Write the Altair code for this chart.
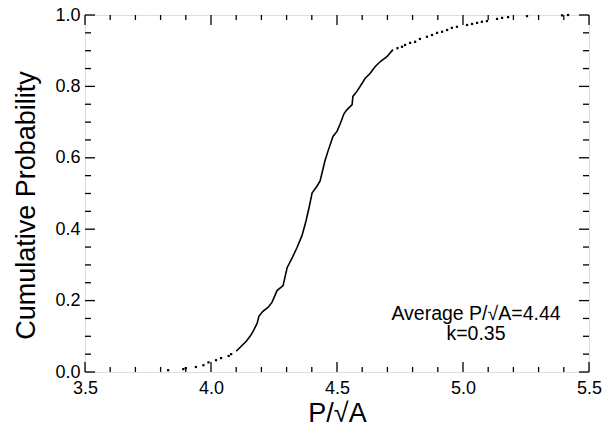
import altair as alt
import pandas as pd

# ---- data (P/sqrt(A) vs cumulative probability) ----
low_x = [3.83, 3.89, 3.90, 3.94, 3.97, 3.99, 4.02, 4.04, 4.07, 4.08]
low_y = [0.005, 0.008, 0.011, 0.014, 0.019, 0.027, 0.033, 0.039, 0.045, 0.050]

mid_x = [4.100, 4.120, 4.140, 4.155, 4.167, 4.183, 4.190, 4.206, 4.226, 4.242,
         4.262, 4.286, 4.302, 4.321, 4.341, 4.361, 4.377, 4.389, 4.397, 4.401,
         4.421, 4.433, 4.452, 4.464, 4.484, 4.500, 4.512, 4.528, 4.540, 4.560,
         4.563, 4.579, 4.599, 4.611, 4.631, 4.651, 4.671, 4.698, 4.722]
mid_y = [0.058, 0.072, 0.086, 0.100, 0.114, 0.136, 0.156, 0.170, 0.181, 0.195,
         0.228, 0.242, 0.292, 0.318, 0.348, 0.382, 0.423, 0.460, 0.487, 0.501,
         0.521, 0.535, 0.591, 0.618, 0.660, 0.674, 0.694, 0.724, 0.735, 0.749,
         0.772, 0.786, 0.808, 0.822, 0.836, 0.855, 0.869, 0.883, 0.903]

high_x = [4.740, 4.758, 4.770, 4.790, 4.810, 4.829, 4.857, 4.877, 4.897, 4.917,
          4.937, 4.956, 4.976, 5.016, 5.036, 5.056, 5.075, 5.095, 5.135, 5.155,
          5.179, 5.254, 5.393, 5.417]
high_y = [0.907, 0.911, 0.916, 0.922, 0.925, 0.933, 0.939, 0.944, 0.950, 0.953,
          0.958, 0.964, 0.967, 0.972, 0.975, 0.978, 0.981, 0.983, 0.989, 0.992,
          0.994, 0.997, 0.999, 1.000]

x_labels = [3.5, 4.0, 4.5, 5.0, 5.5]
x_minor = [3.6, 3.7, 3.8, 3.9, 4.1, 4.2, 4.3, 4.4, 4.6, 4.7, 4.8, 4.9,
           5.1, 5.2, 5.3, 5.4]
y_labels = [0.0, 0.2, 0.4, 0.6, 0.8, 1.0]
y_minor = [0.05, 0.10, 0.15, 0.25, 0.30, 0.35, 0.45, 0.50, 0.55,
           0.65, 0.70, 0.75, 0.85, 0.90, 0.95]

note_text = "Average P/√A=4.44\nk=0.35"
x_title = "P/√A"
y_title = "Cumulative Probability"

# ---- chart ----
W, H = 504, 357
FONT = "Liberation Sans"
xs = alt.Scale(domain=[3.5, 5.5], nice=False, zero=False)
ys = alt.Scale(domain=[0, 1], nice=False, zero=False)

curve_df = pd.DataFrame({"x": mid_x, "y": mid_y})
dots_df = pd.DataFrame({"x": low_x + high_x, "y": low_y + high_y})

axis_common = dict(ticks=False, domain=False, grid=False, format=".1f",
                   labelFont=FONT, titleFont=FONT, labelFontSize=18,
                   labelColor="black", titleColor="black",
                   titleFontWeight="normal", labelFlush=False, labelOverlap=False)
x_axis = alt.Axis(title=x_title, values=x_labels, labelPadding=7,
                  titleFontSize=27, titleAlign="center",
                  titleBaseline="alphabetic", titleX=W / 2, titleY=49,
                  **axis_common)
y_axis = alt.Axis(title=y_title, values=y_labels, labelPadding=5,
                  titleFontSize=27, titleAngle=-90, titleAlign="center",
                  titleBaseline="alphabetic", titleX=-51, titleY=190,
                  **axis_common)

line = alt.Chart(curve_df).mark_line(color="black", strokeWidth=1.6).encode(
    x=alt.X("x:Q", scale=xs, axis=x_axis),
    y=alt.Y("y:Q", scale=ys, axis=y_axis),
)

dots = alt.Chart(dots_df).mark_square(color="black", size=5, opacity=1).encode(
    x=alt.X("x:Q", scale=xs, axis=x_axis),
    y=alt.Y("y:Q", scale=ys, axis=y_axis),
)


def xticks(vals, L, side):
    if side == "bottom":
        yy, yy2 = alt.value(H), alt.value(H - L)
    else:
        yy, yy2 = alt.value(0), alt.value(L)
    return alt.Chart(pd.DataFrame({"x": vals})).mark_rule(
        color="black", strokeWidth=1.3).encode(
        x=alt.X("x:Q", scale=xs, axis=x_axis), y=yy, y2=yy2)


def yticks(vals, L, side):
    if side == "left":
        xx, xx2 = alt.value(0), alt.value(L)
    else:
        xx, xx2 = alt.value(W), alt.value(W - L)
    return alt.Chart(pd.DataFrame({"y": vals})).mark_rule(
        color="black", strokeWidth=1.3).encode(
        y=alt.Y("y:Q", scale=ys, axis=y_axis), x=xx, x2=xx2)


tick_layers = [
    xticks(x_labels, 10, "bottom"), xticks(x_minor, 5, "bottom"),
    xticks(x_labels, 10, "top"), xticks(x_minor, 5, "top"),
    yticks(y_labels, 10, "left"), yticks(y_minor, 6, "left"),
    yticks(y_labels, 10, "right"), yticks(y_minor, 6, "right"),
]

note = alt.Chart(pd.DataFrame({"t": [note_text]})).mark_text(
    font=FONT, fontSize=19.5, color="black", align="center",
    baseline="alphabetic", lineBreak="\n", lineHeight=20).encode(
    x=alt.value(391), y=alt.value(305), text="t:N")

chart = alt.layer(line, dots, *tick_layers, note).properties(
    width=W, height=H,
    autosize=alt.AutoSizeParams(type="none"),
    padding={"left": 77, "top": 7, "right": 17, "bottom": 53},
).configure_view(stroke="black", strokeWidth=1.5).configure(background="white")

chart.save("out.html", embed_options={"renderer": "svg", "actions": False})
